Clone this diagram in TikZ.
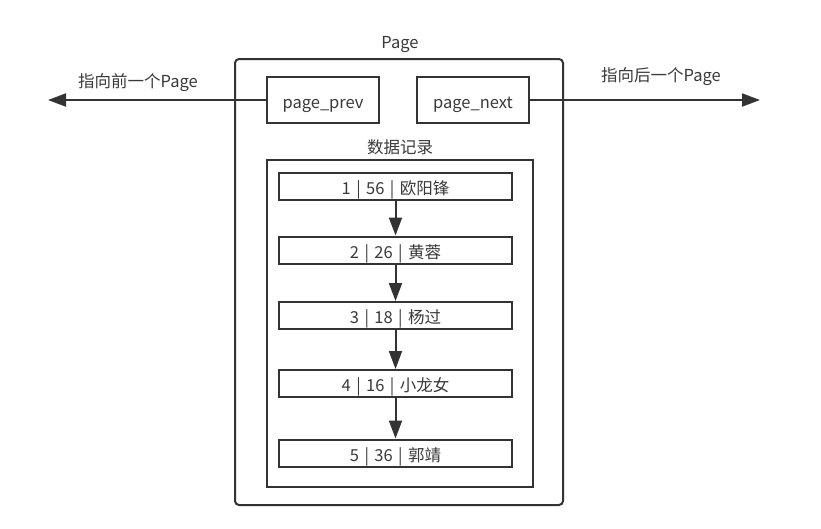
\documentclass[tikz,border=0pt]{standalone}
\usepackage{fontspec}
\setmainfont{Noto Sans CJK SC}
\usetikzlibrary{arrows.meta}
\definecolor{ln}{HTML}{333333}
\definecolor{tx}{HTML}{3a3a3a}
\newcommand{\vsep}{\hspace{0.33em}|\hspace{0.33em}}
\begin{document}
\begin{tikzpicture}[x=1pt,y=-1pt,
  box/.style={draw=ln, line width=2pt, fill=white, inner sep=0pt, text=tx,
              text height=16pt, text depth=0pt,
              font=\fontsize{16.5}{19}\selectfont},
  lbl/.style={text=tx, inner sep=0pt, font=\fontsize{16.5}{19}\selectfont},
  rec/.style={box, minimum width=233pt, minimum height=27pt},
  arr/.style={draw=ln, line width=2pt, -{Triangle[length=18pt,width=13pt]}}]
\useasboundingbox (0,0) rectangle (821,528);
\fill[white] (0,0) rectangle (821,528);
% outer page
\node[box, rounded corners=4pt, minimum width=328pt, minimum height=446pt] (page) at (399,282) {};
\node[lbl] (pagelbl) at (400,45) {Page};
% pointers
\node[box, minimum width=112pt, minimum height=46pt] (prev) at (323,100) {page\_prev};
\node[box, minimum width=112pt, minimum height=46pt] (next) at (473,100) {page\_next};
\coordinate (leftend) at (48,100);
\coordinate (rightend) at (760,100);
\draw[arr] (prev.west) -- (leftend);
\draw[arr] (next.east) -- (rightend);
\node[lbl] (prevlbl) at (138,83) {指向前一个Page};
\node[lbl] (nextlbl) at (661,77) {指向后一个Page};
% data records
\node[lbl] (datalbl) at (400,147) {数据记录};
\node[box, minimum width=266pt, minimum height=327pt] (data) at (400,323.5) {};
\node[rec] (r1) at (395.5,186.5) {1\vsep 56\vsep 欧阳锋};
\node[rec] (r2) at (395.5,250) {2\vsep 26\vsep 黄蓉};
\node[rec] (r3) at (395.5,315.5) {3\vsep 18\vsep 杨过};
\node[rec] (r4) at (395.5,383.5) {4\vsep 16\vsep 小龙女};
\node[rec] (r5) at (395.5,453) {5\vsep 36\vsep 郭靖};
\draw[arr] (r1.south) -- (r2.north);
\draw[arr] (r2.south) -- (r3.north);
\draw[arr] (r3.south) -- (r4.north);
\draw[arr] (r4.south) -- (r5.north);
\end{tikzpicture}
\end{document}
